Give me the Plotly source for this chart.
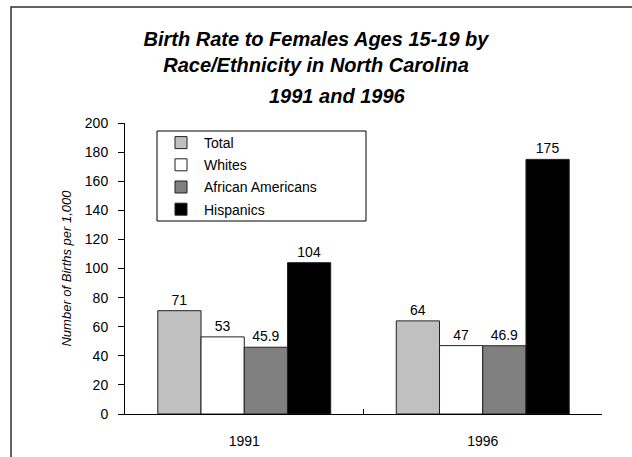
import plotly.graph_objects as go

# Teen birth rates (births per 1,000 females aged 15-19), North Carolina
years = ["1991", "1996"]
series_names = ["Total", "Whites", "African Americans", "Hispanics"]
total = [71, 64]
whites = [53, 47]
african_americans = [45.9, 46.9]
hispanics = [104, 175]
y_ticks = [0, 20, 40, 60, 80, 100, 120, 140, 160, 180, 200]

series_values = [total, whites, african_americans, hispanics]
fills = ["#c0c0c0", "#ffffff", "#808080", "#000000"]

FONT = "Liberation Sans, Arial, sans-serif"

# Plot-area geometry in pixels, used to place paper-referenced items
PL, PR, PT, PB = 125, 602, 123, 414
PW, PH = PR - PL, PB - PT


def px_x(px):
    return (px - PL) / PW


def px_y(py):
    return (PB - py) / PH


fig = go.Figure()
for name, vals, fill in zip(series_names, series_values, fills):
    fig.add_trace(go.Bar(
        name=name,
        x=years,
        y=vals,
        legendgroup=name,
        marker=dict(color=fill, line=dict(color="#202020", width=1)),
        text=[f"{v:g}" for v in vals],
        textposition="outside",
        textfont=dict(family=FONT, size=14, color="#000000"),
        cliponaxis=False,
    ))

fig.update_layout(
    width=632,
    height=457,
    margin=dict(l=PL, r=632 - PR, t=PT, b=457 - PB, autoexpand=False),
    paper_bgcolor="#ffffff",
    plot_bgcolor="#ffffff",
    barmode="group",
    bargap=0.275,
    bargroupgap=0,
    font=dict(family=FONT, size=14, color="#000000"),
    title=dict(
        text="<b><i>Birth Rate to Females Ages 15-19 by<br>Race/Ethnicity in North Carolina</i></b>",
        x=0.5, xanchor="center",
        y=1 - 46 / 457, yanchor="top", yref="container",
        font=dict(family=FONT, size=20, color="#000000"),
    ),
    annotations=[dict(
        text="<b><i>1991 and 1996</i></b>",
        xref="paper", yref="paper",
        x=px_x(337), y=px_y(96),
        xanchor="center", yanchor="middle",
        showarrow=False,
        font=dict(family=FONT, size=20, color="#000000"),
    )],
    legend=dict(
        x=px_x(158), y=px_y(127),
        xanchor="left", yanchor="top",
        bgcolor="rgba(0,0,0,0)",
        borderwidth=0,
        font=dict(family=FONT, size=14, color="#000000"),
        tracegroupgap=1,
        itemwidth=36,
        traceorder="grouped",
    ),
    showlegend=True,
    shapes=[
        # outer frame
        dict(
            type="rect", xref="paper", yref="paper",
            x0=px_x(11), x1=1.5, y0=-0.5, y1=px_y(7),
            line=dict(color="#303030", width=1.5),
            fillcolor="rgba(0,0,0,0)", layer="below",
        ),
        # legend frame
        dict(
            type="rect", xref="paper", yref="paper",
            x0=px_x(157), x1=px_x(366), y0=px_y(221), y1=px_y(131),
            line=dict(color="#000000", width=1),
            fillcolor="#ffffff", layer="below",
        ),
    ],
)

fig.update_xaxes(
    type="category",
    automargin=False,
    showline=True, linecolor="#000000", linewidth=1,
    ticks="inside", ticklen=5, tickcolor="#000000",
    tickson="boundaries",
    showgrid=False, zeroline=False,
    ticklabelstandoff=14,
    tickfont=dict(family=FONT, size=14, color="#000000"),
)
fig.update_yaxes(
    range=[0, 200],
    automargin=False,
    tickvals=y_ticks,
    showline=True, linecolor="#000000", linewidth=1,
    ticks="outside", ticklen=6, tickcolor="#000000",
    showgrid=False, zeroline=False,
    ticklabelstandoff=7,
    tickfont=dict(family=FONT, size=14, color="#000000"),
    title=dict(
        text="<i>Number of Births per 1,000</i>",
        font=dict(family=FONT, size=13, color="#000000"),
        standoff=10,
    ),
)

fig.write_html("out.html")
